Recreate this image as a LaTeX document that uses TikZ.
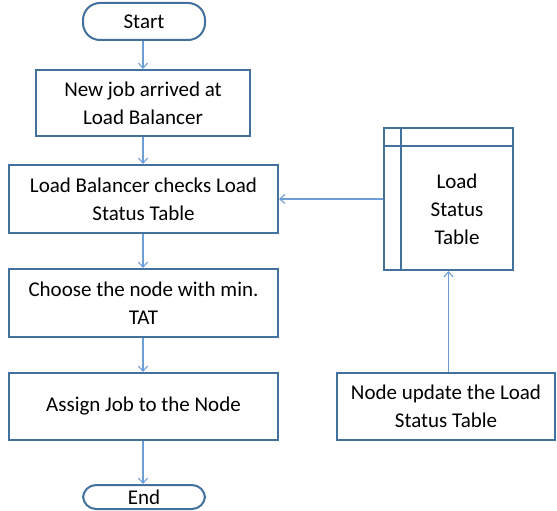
\documentclass[tikz,border=0pt]{standalone}
\usepackage{fontspec}
\setmainfont{Carlito}
\usetikzlibrary{arrows.meta}
\definecolor{bord}{HTML}{41719C}
\definecolor{arr}{HTML}{6D9FD6}
\begin{document}
\begin{tikzpicture}[x=1pt,y=-1pt,
  every node/.style={font=\fontsize{21}{28}\selectfont, text=black, inner sep=0pt, align=center},
  procbox/.style={draw=bord, line width=2pt, fill=white, rectangle},
  termbox/.style={draw=bord, line width=2pt, fill=white, rectangle, rounded corners=13pt},
  flow/.style={draw=arr, line width=1.1pt, -{Straight Barb[length=5pt,width=9pt]}}]
\useasboundingbox (0,0) rectangle (557,511);
\node[termbox, rounded corners=17pt, minimum width=122pt, minimum height=37pt] (start) at (144,21.5) {Start};
\node[procbox, minimum width=214pt, minimum height=66pt] (b1) at (143,103) {New job arrived at\\Load Balancer};
\node[procbox, minimum width=269pt, minimum height=68pt] (b2) at (143.5,199) {Load Balancer checks Load\\Status Table};
\node[procbox, minimum width=269pt, minimum height=68pt] (b3) at (143.5,303) {Choose the node with min.\\TAT};
\node[procbox, minimum width=269pt, minimum height=67pt] (b4) at (143.5,406.5) {Assign Job to the Node};
\node[termbox, minimum width=122pt, minimum height=24pt] (end) at (144,497) {End};
\node[procbox, minimum width=129pt, minimum height=142pt] (tab) at (448.5,199) {};
\draw[bord, line width=2pt] (401,128) -- (401,270);
\draw[bord, line width=2pt] (384,146) -- (513,146);
\node (tabtxt) at (457,209) {Load\\Status\\Table};
\node[procbox, minimum width=218pt, minimum height=67pt] (upd) at (446,406.5) {Node update the Load\\Status Table};
\draw[flow] (start.south -| 143,0) -- (b1.north -| 143,0);
\draw[flow] (b1.south -| 143,0) -- (b2.north -| 143,0);
\draw[flow] (b2.south -| 143,0) -- (b3.north -| 143,0);
\draw[flow] (b3.south -| 143,0) -- (b4.north -| 143,0);
\draw[flow] (b4.south -| 143,0) -- (end.north -| 143,0);
\draw[flow] (tab.west) -- (b2.east);
\draw[flow] (upd.north -| tab.south) -- (tab.south);
\end{tikzpicture}
\end{document}
